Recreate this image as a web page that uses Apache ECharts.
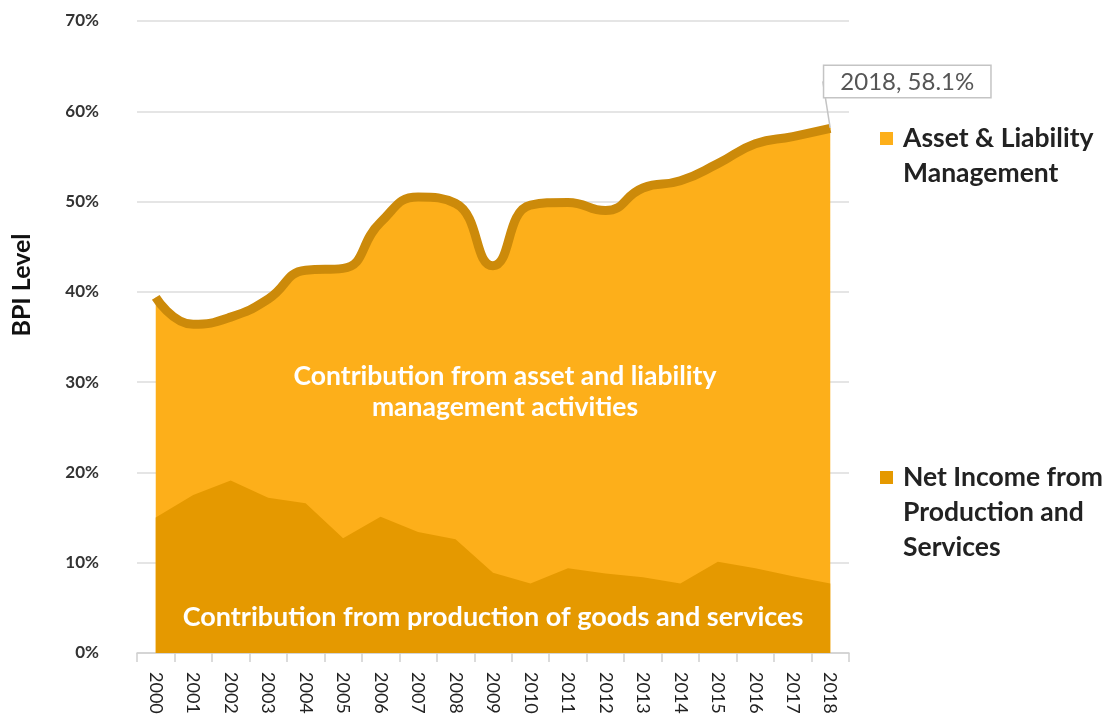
<!DOCTYPE html>
<html>
<head>
<meta charset="utf-8">
<title>BPI Level</title>
<script src="https://cdn.jsdelivr.net/npm/echarts@6/dist/echarts.min.js"></script>
<style>
html, body {
  margin: 0;
  padding: 0;
  background: #fff;
}
#chart {
  width: 1119px;
  height: 717px;
}
</style>
</head>
<body>
<div id="chart"></div>
<script>
// years on the x axis
const years = ['2000', '2001', '2002', '2003', '2004', '2005', '2006', '2007', '2008', '2009',
  '2010', '2011', '2012', '2013', '2014', '2015', '2016', '2017', '2018']
// total BPI level (top of the light area, the thick line), %
const totalBpi = [39.4, 36.4, 37.2, 39.2, 42.4, 42.6, 47.7, 50.5, 49.8, 42.9,
  49.6, 49.9, 49.0, 51.5, 52.3, 54.2, 56.4, 57.2, 58.1]
// net income from production and services, %
const netIncome = [15.0, 17.5, 19.1, 17.2, 16.6, 12.7, 15.1, 13.4, 12.6, 8.9,
  7.7, 9.4, 8.8, 8.4, 7.7, 10.1, 9.4, 8.5, 7.7]
const seriesNames = ['Asset & Liability Management', 'Net Income from Production and Services']
// blank lines in front keep the square beside the first line
const legendLabels = [' \nAsset & Liability\nManagement', ' \n \nNet Income from\nProduction and\nServices']

const FONT = 'Lato'
const LIGHT = '#fdaf1a'
const DARK = '#e59900'
const LINE = '#cc8a0a'
const last = years.length - 1

const totalData = totalBpi.map((v, i) => {
  if (i !== last) return v
  return {
    value: v,
    symbol: 'circle',
    symbolSize: 1,
    label: {
      show: true,
      position: 'top',
      formatter: p => years[p.dataIndex] + ', ' + p.value + '%',
      fontFamily: FONT,
      fontSize: 24,
      color: '#555',
      backgroundColor: '#fff',
      borderColor: '#c4c4c4',
      borderWidth: 1.5,
      padding: [4, 16, 3, 16]
    },
    labelLine: {
      show: true,
      lineStyle: { color: '#c4c4c4', width: 1.5 }
    }
  }
})

const legendBase = {
  orient: 'vertical',
  left: 880,
  padding: 0,
  itemWidth: 13,
  itemHeight: 13,
  selectedMode: false,
  formatter: name => legendLabels[seriesNames.indexOf(name)],
  textStyle: { fontFamily: FONT, fontSize: 26.5, fontWeight: 'bold', color: '#222', lineHeight: 35, padding: [0, 0, 0, 5] }
}

const chart = echarts.init(document.getElementById('chart'))
chart.setOption({
  animation: false,
  textStyle: { fontFamily: FONT },
  grid: { left: 137, right: 270, top: 21, bottom: 64 },
  legend: [
    Object.assign({}, legendBase, {
      top: 86,
      data: [{ name: seriesNames[0], icon: 'rect', itemStyle: { color: LIGHT } }]
    }),
    Object.assign({}, legendBase, {
      top: 390,
      data: [{ name: seriesNames[1], icon: 'rect', itemStyle: { color: DARK } }]
    })
  ],
  xAxis: {
    type: 'category',
    data: years,
    boundaryGap: true,
    axisLine: { lineStyle: { color: '#d0d0d0', width: 1.5 } },
    axisTick: { show: true, interval: 0, length: 9, lineStyle: { color: '#d0d0d0', width: 1.5 } },
    axisLabel: { rotate: -90, interval: 0, margin: 19, fontFamily: FONT, fontSize: 18, color: '#222' }
  },
  yAxis: {
    type: 'value',
    min: 0,
    max: 70,
    interval: 10,
    name: 'BPI Level',
    nameLocation: 'middle',
    nameRotate: 90,
    nameGap: 103,
    nameTextStyle: { fontFamily: FONT, fontSize: 25, fontWeight: 'bold', color: '#111', padding: [0, 0, 0, 104] },
    axisLine: { show: false },
    axisTick: { show: false },
    axisLabel: { formatter: '{value}%', margin: 38, fontFamily: FONT, fontSize: 17, fontWeight: 'bold', color: '#333' },
    splitLine: { lineStyle: { color: '#dcdcdc', width: 1.5 } }
  },
  series: [
    {
      name: seriesNames[0],
      type: 'line',
      data: totalData,
      smooth: 0.5,
      symbol: 'none',
      itemStyle: { color: LIGHT },
      lineStyle: { color: LINE, width: 9 },
      areaStyle: { color: LIGHT, opacity: 1 },
      labelLayout: params => params.dataIndex === last ? { dx: 77, dy: -26 } : {},
      z: 2
    },
    {
      name: seriesNames[1],
      type: 'line',
      data: netIncome,
      symbol: 'none',
      itemStyle: { color: DARK },
      lineStyle: { width: 0, color: DARK },
      areaStyle: { color: DARK, opacity: 1 },
      z: 3
    }
  ],
  graphic: [
    {
      type: 'text',
      x: 505,
      y: 392,
      z: 10,
      style: {
        text: 'Contribution from asset and liability\nmanagement activities',
        fill: '#fff',
        font: 'bold 26.5px Lato',
        lineHeight: 31,
        align: 'center',
        verticalAlign: 'middle'
      }
    },
    {
      type: 'text',
      x: 493,
      y: 617,
      z: 10,
      style: {
        text: 'Contribution from production of goods and services',
        fill: '#fff',
        font: 'bold 27px Lato',
        align: 'center',
        verticalAlign: 'middle'
      }
    }
  ]
})
</script>
</body>
</html>
